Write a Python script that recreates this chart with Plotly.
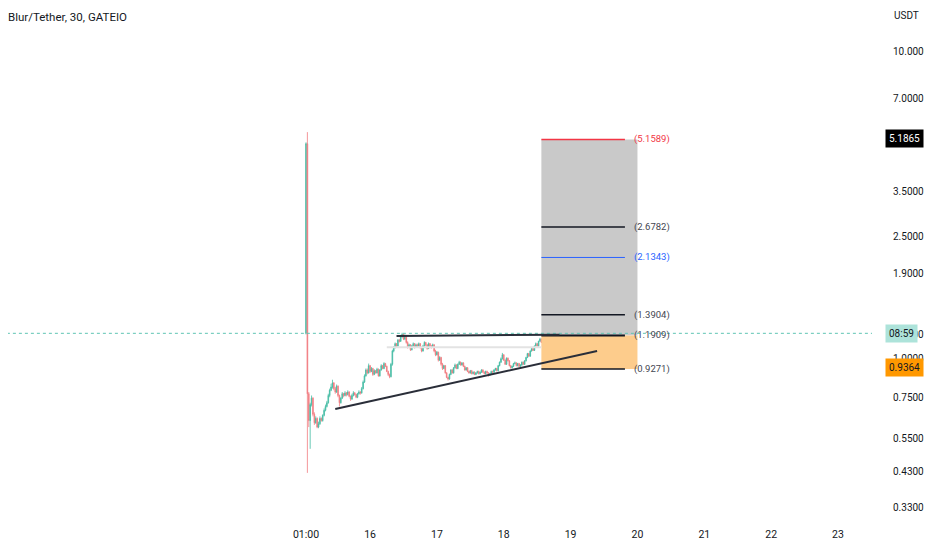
import numpy as np
import pandas as pd
import plotly.graph_objects as go

# 30 minute candles, Blur/Tether on GATEIO
first_open = 1.21
closes = [
    5.00, 0.77, 0.63, 0.71, 0.745, 0.66, 0.62, 0.64, 0.60, 0.615,
    0.64, 0.63, 0.655, 0.68, 0.70, 0.72, 0.76, 0.79, 0.81, 0.835,
    0.80, 0.78, 0.815, 0.76, 0.72, 0.745, 0.77, 0.76, 0.775, 0.765,
    0.78, 0.755, 0.74, 0.76, 0.775, 0.765, 0.75, 0.77, 0.78, 0.775,
    0.80, 0.84, 0.88, 0.92, 0.90, 0.95, 0.91, 0.93, 0.89, 0.915,
    0.90, 0.925, 0.88, 0.92, 0.95, 0.93, 0.965, 0.945, 0.91, 0.89,
    0.875, 0.96, 1.06, 1.09, 1.12, 1.10, 1.15, 1.14, 1.18, 1.20,
    1.16, 1.19, 1.13, 1.09, 1.11, 1.07, 1.10, 1.12, 1.09, 1.11,
    1.10, 1.12, 1.09, 1.06, 1.10, 1.13, 1.11, 1.08, 1.12, 1.10,
    1.09, 1.11, 1.06, 1.03, 1.05, 0.99, 1.01, 0.96, 0.93, 0.95,
    0.90, 0.87, 0.86, 0.89, 0.92, 0.90, 0.935, 0.955, 0.93, 0.96,
    0.975, 0.955, 0.97, 0.945, 0.92, 0.935, 0.91, 0.90, 0.915, 0.895,
    0.905, 0.89, 0.90, 0.91, 0.895, 0.905, 0.92, 0.905, 0.895, 0.91,
    0.90, 0.885, 0.895, 0.91, 0.905, 0.92, 0.93, 0.915, 0.95, 0.975,
    1.00, 1.03, 0.99, 0.96, 1.005, 0.985, 0.95, 0.935, 0.945, 0.965,
    0.97, 0.95, 0.965, 0.945, 0.955, 0.975, 0.96, 0.985, 1.01, 1.04,
    1.02, 1.06, 1.08, 1.065, 1.10, 1.12, 1.10, 1.14, 1.16, 1.13,
    1.09, 1.12, 1.15, 1.11, 1.14, 1.16, 1.15, 1.18, 1.17, 1.20,
    1.19, 1.21,
]
highs = [
    5.05, 5.45, 0.78, 0.72, 0.76, 0.75, 0.67, 0.65, 0.645, 0.625,
    0.65, 0.645, 0.66, 0.69, 0.71, 0.73, 0.77, 0.80, 0.83, 0.855,
    0.84, 0.81, 0.825, 0.82, 0.765, 0.75, 0.78, 0.775, 0.785, 0.78,
    0.79, 0.785, 0.76, 0.77, 0.785, 0.78, 0.77, 0.775, 0.79, 0.785,
    0.81, 0.85, 0.89, 0.93, 0.93, 0.965, 0.955, 0.94, 0.935, 0.925,
    0.92, 0.935, 0.93, 0.925, 0.96, 0.955, 0.975, 0.97, 0.95, 0.915,
    0.895, 0.97, 1.07, 1.10, 1.13, 1.125, 1.16, 1.16, 1.19, 1.215,
    1.205, 1.20, 1.195, 1.14, 1.12, 1.115, 1.11, 1.13, 1.125, 1.12,
    1.12, 1.13, 1.125, 1.095, 1.11, 1.14, 1.135, 1.115, 1.13, 1.125,
    1.11, 1.12, 1.115, 1.07, 1.06, 1.055, 1.02, 1.015, 0.97, 0.955,
    0.955, 0.905, 0.875, 0.895, 0.925, 0.925, 0.94, 0.965, 0.96, 0.965,
    0.985, 0.98, 0.975, 0.975, 0.95, 0.94, 0.94, 0.915, 0.92, 0.92,
    0.91, 0.91, 0.905, 0.915, 0.915, 0.91, 0.925, 0.925, 0.91, 0.915,
    0.915, 0.905, 0.90, 0.915, 0.915, 0.925, 0.935, 0.935, 0.955, 0.98,
    1.01, 1.045, 1.035, 0.995, 1.01, 1.01, 0.99, 0.955, 0.95, 0.97,
    0.98, 0.975, 0.97, 0.97, 0.96, 0.98, 0.98, 0.99, 1.015, 1.045,
    1.045, 1.065, 1.09, 1.085, 1.105, 1.13, 1.125, 1.145, 1.17, 1.165,
    1.135, 1.125, 1.16, 1.155, 1.145, 1.17, 1.165, 1.19, 1.19, 1.21,
    1.21, 1.25,
]
lows = [
    1.20, 0.426, 0.60, 0.51, 0.70, 0.65, 0.61, 0.615, 0.595, 0.595,
    0.61, 0.625, 0.625, 0.65, 0.675, 0.695, 0.715, 0.75, 0.785, 0.80,
    0.79, 0.77, 0.775, 0.75, 0.70, 0.715, 0.74, 0.75, 0.755, 0.755,
    0.76, 0.75, 0.73, 0.735, 0.755, 0.76, 0.745, 0.745, 0.765, 0.765,
    0.77, 0.795, 0.835, 0.875, 0.89, 0.895, 0.90, 0.905, 0.88, 0.885,
    0.895, 0.895, 0.875, 0.875, 0.915, 0.925, 0.925, 0.94, 0.905, 0.88,
    0.865, 0.87, 0.95, 1.05, 1.08, 1.09, 1.095, 1.13, 1.135, 1.17,
    1.15, 1.15, 1.12, 1.08, 1.085, 1.06, 1.065, 1.095, 1.08, 1.085,
    1.09, 1.095, 1.08, 1.05, 1.055, 1.095, 1.10, 1.07, 1.075, 1.09,
    1.08, 1.085, 1.05, 1.02, 1.025, 0.98, 0.985, 0.95, 0.92, 0.925,
    0.895, 0.865, 0.85, 0.855, 0.885, 0.895, 0.895, 0.93, 0.925, 0.925,
    0.955, 0.95, 0.95, 0.94, 0.915, 0.915, 0.905, 0.895, 0.895, 0.89,
    0.89, 0.885, 0.885, 0.895, 0.89, 0.89, 0.90, 0.90, 0.89, 0.89,
    0.895, 0.875, 0.88, 0.89, 0.90, 0.90, 0.915, 0.91, 0.91, 0.945,
    0.97, 0.995, 0.985, 0.955, 0.955, 0.98, 0.945, 0.93, 0.93, 0.94,
    0.96, 0.945, 0.945, 0.94, 0.94, 0.95, 0.955, 0.955, 0.98, 1.005,
    1.015, 1.015, 1.055, 1.06, 1.06, 1.095, 1.095, 1.095, 1.135, 1.125,
    1.08, 1.085, 1.115, 1.105, 1.105, 1.135, 1.14, 1.145, 1.16, 1.165,
    1.18, 1.185,
]
opens = [first_open] + closes[:-1]
times = pd.date_range('2023-02-15 01:00', periods=len(closes), freq='30min')

# long position tool levels
box_start = '2023-02-18 13:30'
box_end = '2023-02-20 00:00'
line_end = '2023-02-19 19:30'
label_x = '2023-02-19 22:00'
target_price = 5.1589
entry_price = 1.1909
stop_price = 0.9271
level_prices = [5.1589, 2.6782, 2.1343, 1.3904, 1.1909, 0.9271]
level_colors = ['#f23645', '#131722', '#2962ff', '#131722', '#131722', '#131722']
label_colors = ['#f23645', '#434651', '#2962ff', '#434651', '#434651', '#434651']
level_widths = [1.5, 1.5, 1, 1.5, 2, 1.5]

# drawn trend lines
upper_line_x = ['2023-02-16 09:30', '2023-02-18 20:00']
upper_line_y = [1.185, 1.198]
lower_line_x = ['2023-02-15 11:30', '2023-02-19 09:30']
lower_line_y = [0.687, 1.06]
grey_line_x = ['2023-02-16 06:00', '2023-02-18 13:30']
grey_line_y = [1.09, 1.09]

last_price = 1.21
tick_prices = [10, 7, 3.5, 2.5, 1.9, 1.2, 1.0, 0.75, 0.55, 0.43, 0.33]
day_ticks = ['2023-02-15 01:00', '2023-02-16', '2023-02-17', '2023-02-18', '2023-02-19',
             '2023-02-20', '2023-02-21', '2023-02-22', '2023-02-23']
day_labels = ['01:00', '16', '17', '18', '19', '20', '21', '22', '23']

font = 'Roboto, Liberation Sans, sans-serif'
txt = '#131722'

fig = go.Figure()

# profit / stop zones
fig.add_trace(go.Scatter(
    x=[box_start, box_end, box_end, box_start, box_start],
    y=[entry_price, entry_price, target_price, target_price, entry_price],
    fill='toself', fillcolor='#c9c9c9', mode='lines', line=dict(width=0),
    hoverinfo='skip', showlegend=False))
fig.add_trace(go.Scatter(
    x=[box_start, box_end, box_end, box_start, box_start],
    y=[stop_price, stop_price, entry_price, entry_price, stop_price],
    fill='toself', fillcolor='#fdcc8c', mode='lines', line=dict(width=0),
    hoverinfo='skip', showlegend=False))

for p, c, w in zip(level_prices, level_colors, level_widths):
    fig.add_trace(go.Scatter(x=[box_start, line_end], y=[p, p], mode='lines',
                             line=dict(color=c, width=w), hoverinfo='skip', showlegend=False))

fig.add_trace(go.Scatter(x=grey_line_x, y=grey_line_y, mode='lines',
                         line=dict(color='#e3e3e3', width=2), hoverinfo='skip', showlegend=False))

# last price dotted line
fig.add_trace(go.Scatter(x=[times[0] - pd.Timedelta(days=6), times[-1] + pd.Timedelta(days=6)],
                         y=[last_price, last_price], mode='lines',
                         line=dict(color='#5fc4b4', width=1, dash='dot'),
                         hoverinfo='skip', showlegend=False))

fig.add_trace(go.Candlestick(
    x=times, open=opens, high=highs, low=lows, close=closes,
    increasing=dict(line=dict(color='#45bca4', width=0.8), fillcolor='#45bca4'),
    decreasing=dict(line=dict(color='#f17b80', width=0.8), fillcolor='#f17b80'),
    hoverinfo='skip', showlegend=False))

fig.add_trace(go.Scatter(x=upper_line_x, y=upper_line_y, mode='lines',
                         line=dict(color='#2a2e39', width=2), hoverinfo='skip', showlegend=False))
fig.add_trace(go.Scatter(x=lower_line_x, y=lower_line_y, mode='lines',
                         line=dict(color='#2a2e39', width=2), hoverinfo='skip', showlegend=False))

annotations = []
for p, c in zip(level_prices, label_colors):
    annotations.append(dict(x=label_x, y=np.log10(p), xref='x', yref='y',
                            text=f'({p:.4f})', showarrow=False, xanchor='left',
                            font=dict(family=font, size=9.5, color=c)))

# price axis labels
annotations.append(dict(x=1, y=np.log10(5.1865), xref='paper', yref='y', text='5.1865',
                        showarrow=False, xanchor='left', xshift=13, bgcolor='#000000',
                        font=dict(family=font, size=10, color='#ffffff'), borderpad=3))
annotations.append(dict(x=1, y=np.log10(1.212), xref='paper', yref='y', text='08:59',
                        showarrow=False, xanchor='left', xshift=13, bgcolor='#ade3da',
                        font=dict(family=font, size=10, color=txt), borderpad=3))
annotations.append(dict(x=1, y=np.log10(0.9364), xref='paper', yref='y', text='0.9364',
                        showarrow=False, xanchor='left', xshift=13, bgcolor='#ff9800',
                        font=dict(family=font, size=10, color=txt), borderpad=3))
annotations.append(dict(x=1, y=1, xref='paper', yref='paper', text='USDT', showarrow=False,
                        xanchor='left', yanchor='middle', xshift=20, yshift=-7,
                        font=dict(family=font, size=10, color=txt)))
annotations.append(dict(x=0, y=1, xref='paper', yref='paper', text='Blur/Tether, 30, GATEIO',
                        showarrow=False, xanchor='left', yanchor='middle', xshift=-2, yshift=-9,
                        font=dict(family=font, size=11.5, color=txt)))

# the page puts the figure 8px in from the top-left corner of the window
t0 = pd.Timestamp('2023-02-15 01:00')
px_per_day = 66.85

fig.update_layout(
    width=924, height=542,
    margin=dict(l=0, r=60, t=0, b=30),
    paper_bgcolor='#ffffff', plot_bgcolor='#ffffff',
    showlegend=False,
    annotations=annotations,
    xaxis=dict(
        range=[t0 - pd.Timedelta(days=298 / px_per_day), t0 + pd.Timedelta(days=566 / px_per_day)],
        rangeslider=dict(visible=False),
        tickvals=day_ticks, ticktext=day_labels,
        showgrid=False, zeroline=False, showline=False, ticks='',
        ticklabelstandoff=6,
        tickfont=dict(family=font, size=10.5, color=txt),
    ),
    yaxis=dict(
        type='log', side='right',
        range=[-0.5237, 1.1397],
        tickvals=tick_prices, ticktext=[f'{v:.4f}' for v in tick_prices],
        showgrid=False, zeroline=False, showline=False, ticks='',
        ticklabelstandoff=20,
        tickfont=dict(family=font, size=10, color=txt),
    ),
)

fig.write_html('out.html')
